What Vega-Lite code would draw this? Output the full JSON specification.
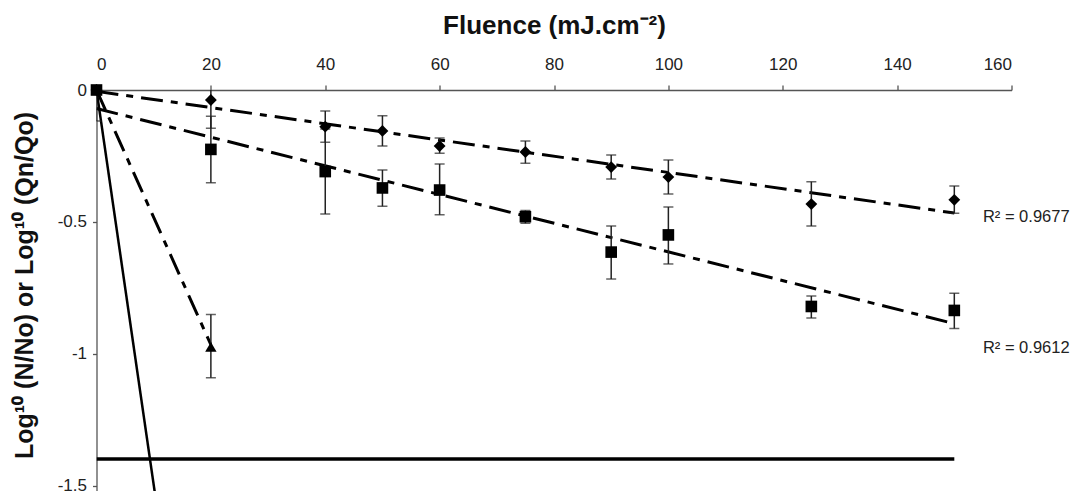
{
  "$schema": "https://vega.github.io/schema/vega-lite/v6.json",
  "width": 915,
  "height": 401,
  "autosize": {"type": "none"},
  "padding": {"left": 96.5, "top": 90, "right": 58.5, "bottom": 0},
  "background": "white",
  "config": {
    "view": {"stroke": null},
    "font": "Liberation Sans",
    "axis": {
      "grid": false,
      "domainColor": "#555555",
      "domainWidth": 1.3,
      "tickColor": "#555555",
      "tickWidth": 1.3,
      "tickSize": 5,
      "labelFont": "Liberation Sans",
      "labelFontSize": 17,
      "labelColor": "#222222",
      "titleFont": "Liberation Sans",
      "titleFontWeight": "bold",
      "titleFontSize": 26,
      "titleColor": "#111111"
    }
  },
  "datasets": {
    "points": [
      {"series": "D", "x": 0, "y": 0, "lo": 0, "hi": 0},
      {"series": "D", "x": 20, "y": -0.038, "lo": -0.145, "hi": 0.07},
      {"series": "D", "x": 40, "y": -0.139, "lo": -0.198, "hi": -0.08},
      {"series": "D", "x": 50, "y": -0.155, "lo": -0.212, "hi": -0.098},
      {"series": "D", "x": 60, "y": -0.212, "lo": -0.24, "hi": -0.182},
      {"series": "D", "x": 75, "y": -0.235, "lo": -0.277, "hi": -0.193},
      {"series": "D", "x": 90, "y": -0.292, "lo": -0.337, "hi": -0.246},
      {"series": "D", "x": 100, "y": -0.33, "lo": -0.394, "hi": -0.265},
      {"series": "D", "x": 125, "y": -0.432, "lo": -0.515, "hi": -0.348},
      {"series": "D", "x": 150, "y": -0.416, "lo": -0.467, "hi": -0.364},
      {"series": "T", "x": 0, "y": 0, "lo": 0, "hi": 0},
      {"series": "T", "x": 20, "y": -0.973, "lo": -1.09, "hi": -0.85},
      {"series": "S", "x": 0, "y": 0, "lo": -0.117, "hi": 0.117},
      {"series": "S", "x": 20, "y": -0.225, "lo": -0.351, "hi": -0.099},
      {"series": "S", "x": 40, "y": -0.309, "lo": -0.47, "hi": -0.148},
      {"series": "S", "x": 50, "y": -0.371, "lo": -0.44, "hi": -0.303},
      {"series": "S", "x": 60, "y": -0.379, "lo": -0.473, "hi": -0.28},
      {"series": "S", "x": 75, "y": -0.48, "lo": -0.505, "hi": -0.456},
      {"series": "S", "x": 90, "y": -0.614, "lo": -0.716, "hi": -0.515},
      {"series": "S", "x": 100, "y": -0.549, "lo": -0.659, "hi": -0.443},
      {"series": "S", "x": 125, "y": -0.82, "lo": -0.864, "hi": -0.78},
      {"series": "S", "x": 150, "y": -0.835, "lo": -0.903, "hi": -0.77}
    ],
    "fits": [
      {"fit": "D", "x": 0, "y": -0.005},
      {"fit": "D", "x": 150, "y": -0.466},
      {"fit": "S", "x": 0, "y": -0.07},
      {"fit": "S", "x": 150, "y": -0.885},
      {"fit": "T", "x": 0, "y": 0},
      {"fit": "T", "x": 20, "y": -0.965}
    ],
    "solid": [
      {"x": 0, "y": 0},
      {"x": 10.7, "y": -1.6}
    ],
    "limit": [
      {"x": 0, "y": -1.398},
      {"x": 150, "y": -1.398}
    ],
    "labels": [
      {"x": 155, "y": -0.499, "text": "R² = 0.9677"},
      {"x": 155, "y": -0.996, "text": "R² = 0.9612"}
    ]
  },
  "encoding": {
    "x": {
      "field": "x",
      "type": "quantitative",
      "scale": {"domain": [0, 160], "nice": false, "zero": false},
      "axis": {
        "orient": "top",
        "values": [0, 20, 40, 60, 80, 100, 120, 140, 160],
        "title": "Fluence (mJ.cm⁻²)",
        "labelPadding": 12,
        "titleBaseline": "alphabetic",
        "titleY": -56.7
      }
    },
    "y": {
      "field": "y",
      "type": "quantitative",
      "scale": {"domain": [-1.519, 0], "nice": false, "zero": false},
      "axis": {
        "values": [0, -0.5, -1, -1.5],
        "labelExpr": "toString(datum.value)",
        "tickSize": 4,
        "labelPadding": 6,
        "title": "Log¹⁰ (N/No) or Log¹⁰ (Qn/Qo)",
        "titleFontSize": 25,
        "titleAngle": -90,
        "titleBaseline": "alphabetic",
        "titleAlign": "center",
        "titleX": -64,
        "titleY": 195
      }
    }
  },
  "layer": [
    {
      "data": {"name": "limit"},
      "mark": {"type": "line", "color": "black", "strokeWidth": 3.5, "clip": true},
      "encoding": {}
    },
    {
      "data": {"name": "solid"},
      "mark": {"type": "line", "color": "black", "strokeWidth": 2.5, "clip": true},
      "encoding": {}
    },
    {
      "data": {"name": "fits"},
      "mark": {"type": "line", "color": "black", "strokeWidth": 3, "strokeDash": [22, 8, 7, 8], "clip": true},
      "encoding": {"detail": {"field": "fit"}}
    },
    {
      "data": {"name": "points"},
      "mark": {"type": "rule", "color": "#222222", "strokeWidth": 1.5, "clip": true},
      "encoding": {
        "y": {"field": "lo", "type": "quantitative"},
        "y2": {"field": "hi"}
      }
    },
    {
      "data": {"name": "points"},
      "mark": {"type": "tick", "orient": "horizontal", "color": "#222222", "thickness": 1.5, "size": 10, "clip": true},
      "encoding": {"y": {"field": "lo", "type": "quantitative"}}
    },
    {
      "data": {"name": "points"},
      "mark": {"type": "tick", "orient": "horizontal", "color": "#222222", "thickness": 1.5, "size": 10, "clip": true},
      "encoding": {"y": {"field": "hi", "type": "quantitative"}}
    },
    {
      "data": {"name": "points"},
      "mark": {"type": "point", "filled": true, "opacity": 1, "color": "black", "clip": false},
      "encoding": {
        "shape": {
          "field": "series",
          "type": "nominal",
          "scale": {"domain": ["D", "S", "T"], "range": ["diamond", "square", "triangle-up"]},
          "legend": null
        },
        "size": {
          "field": "series",
          "type": "nominal",
          "scale": {"domain": ["D", "S", "T"], "range": [140, 130, 150]},
          "legend": null
        }
      }
    },
    {
      "data": {"name": "labels"},
      "mark": {"type": "text", "align": "left", "baseline": "alphabetic", "fontSize": 16.5, "color": "#222222", "font": "Liberation Sans"},
      "encoding": {"text": {"field": "text"}}
    }
  ]
}
